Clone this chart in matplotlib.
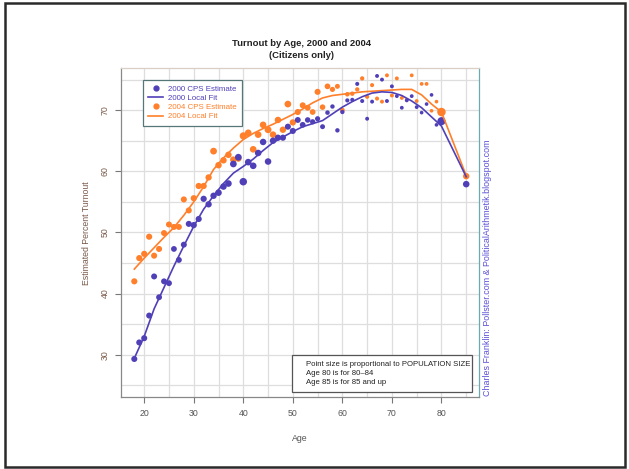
import matplotlib
matplotlib.use("Agg")
import matplotlib.pyplot as plt
from matplotlib.lines import Line2D
from matplotlib.patches import Rectangle
import numpy as np

plt.rcParams['font.family'] = ['Liberation Sans', 'DejaVu Sans']

# ---- data ----
ages = list(range(18, 80)) + [80, 85]

turnout_2000 = [29.3, 32.0, 32.7, 36.4, 42.8, 39.4, 42.0, 41.7, 47.3, 45.5,
                48.0, 51.4, 51.2, 52.2, 55.5, 54.6, 56.0, 56.5, 57.5, 58.0,
                61.2, 62.3, 58.3, 61.5, 60.9, 63.0, 64.8, 61.6, 65.0, 65.5,
                65.5, 67.3, 66.6, 68.4, 67.6, 68.4, 68.1, 68.6, 67.3, 69.6,
                70.6, 66.7, 69.7, 71.6, 71.7, 74.3, 71.5, 68.6, 71.4, 75.6,
                75.0, 71.5, 73.9, 72.3, 70.4, 71.6, 72.3, 70.5, 69.6, 71.0,
                72.5, 67.6, 68.2, 57.9]

turnout_2004 = [42.0, 45.8, 46.5, 49.3, 46.2, 47.3, 49.9, 51.3, 50.9, 50.9,
                55.4, 53.6, 55.6, 57.6, 57.6, 59.0, 63.3, 61.0, 61.8, 62.7,
                61.9, 62.1, 65.8, 66.3, 63.6, 66.0, 67.6, 66.8, 66.0, 68.4,
                66.8, 71.0, 68.0, 69.7, 70.8, 70.4, 69.7, 73.0, 70.5, 73.9,
                73.4, 73.9, 70.0, 72.6, 72.7, 73.4, 75.2, 72.2, 74.1, 71.9,
                71.4, 75.7, 72.4, 75.2, 72.0, 71.7, 75.7, 71.5, 74.3, 74.3,
                69.9, 71.4, 69.7, 59.2]

# relative population (point size)
pop_2000 = [3.6, 3.6, 3.6, 3.5, 3.5, 3.4, 3.4, 3.4, 3.3, 3.4,
            3.5, 3.6, 3.8, 3.7, 3.8, 3.9, 4.0, 4.2, 4.1, 4.3,
            4.4, 4.5, 5.5, 4.3, 4.3, 4.2, 4.1, 4.2, 4.0, 3.8,
            3.7, 3.6, 3.6, 3.4, 3.3, 3.0, 2.7, 2.6, 2.4, 2.0,
            1.9, 1.9, 1.8, 1.7, 1.6, 1.6, 1.6, 1.5, 1.5, 1.5,
            1.5, 1.5, 1.5, 1.4, 1.4, 1.4, 1.4, 1.4, 1.3, 1.3,
            1.3, 1.3, 6.5, 4.2]

pop_2004 = [3.7, 3.7, 3.7, 3.7, 3.6, 3.6, 3.5, 3.5, 3.5, 3.5,
            3.6, 3.6, 3.7, 3.8, 3.8, 3.9, 4.5, 4.1, 4.1, 4.1,
            4.2, 4.2, 5.0, 4.3, 4.3, 4.3, 4.3, 4.6, 4.2, 4.1,
            4.0, 4.4, 3.9, 3.6, 3.5, 3.4, 3.2, 3.6, 3.0, 3.2,
            2.6, 2.4, 2.2, 2.0, 1.9, 1.8, 1.8, 1.7, 1.6, 1.6,
            1.5, 1.5, 1.5, 1.5, 1.4, 1.4, 1.4, 1.4, 1.4, 1.4,
            1.3, 1.3, 7.0, 4.0]

fit_ages = [18, 20, 22, 24, 26, 28, 30, 32, 34, 36, 38, 40, 42, 44, 46, 48,
            50, 52, 54, 56, 58, 60, 62, 64, 66, 68, 70, 72, 74, 76, 78, 80, 85]
fit_2000 = [29.4, 33.0, 37.5, 41.0, 44.5, 47.8, 51.0, 53.8, 56.0, 58.0, 59.7,
            60.8, 62.0, 63.4, 64.7, 65.6, 66.5, 67.3, 67.8, 68.3, 69.4, 70.5,
            71.4, 72.2, 72.8, 73.0, 72.9, 72.4, 71.5, 70.4, 68.9, 67.4, 59.1]
fit_2004 = [44.0, 45.8, 47.5, 49.2, 50.8, 52.8, 55.0, 57.5, 60.3, 62.2, 63.8,
            65.2, 66.2, 67.0, 67.7, 68.5, 69.3, 70.2, 71.2, 72.0, 72.4, 72.6,
            72.8, 73.0, 73.1, 73.2, 73.3, 73.4, 73.4, 72.5, 71.0, 69.7, 59.3]

x_ticks = [20, 30, 40, 50, 60, 70, 80]
y_ticks = [30, 40, 50, 60, 70]

PURPLE = '#5040b8'
ORANGE = '#ff7f2a'

fig = plt.figure(figsize=(6.29, 4.69), dpi=100)
ax = fig.add_axes([0.1924, 0.1525, 0.5699, 0.7025])

ax.set_xlim(15.32, 87.68)
ax.set_ylim(23.0, 76.9)

# grid every 5
for gx in range(15, 90, 5):
    ax.axvline(gx, color='#dedede', lw=0.9, zorder=0)
for gy in range(25, 80, 5):
    ax.axhline(gy, color='#dedede', lw=0.9, zorder=0)

k = 5.3
ax.scatter(ages, turnout_2004, s=[p * k for p in pop_2004], color=ORANGE,
           linewidths=0, zorder=3)
ax.scatter(ages, turnout_2000, s=[p * k for p in pop_2000], color=PURPLE,
           linewidths=0, zorder=3)
ax.plot(fit_ages, fit_2004, color=ORANGE, lw=1.2, zorder=4)
ax.plot(fit_ages, fit_2000, color=PURPLE, lw=1.2, zorder=4)

ax.set_xticks(x_ticks)
ax.set_yticks(y_ticks)
ax.set_xticklabels([str(v) for v in x_ticks], fontsize=6.3, color='#555555')
ax.set_yticklabels([str(v) for v in y_ticks], fontsize=6.3, color='#7a5a4a',
                   rotation=90, va='center')
ax.tick_params(axis='both', direction='out', length=4, width=0.8,
               color='#777777', pad=4)

ax.spines['left'].set_color('#888888')
ax.spines['bottom'].set_color('#888888')
ax.spines['top'].set_color('#d9cfc6')
ax.spines['right'].set_color('#6aaab0')
for s in ax.spines.values():
    s.set_linewidth(0.9)

ax.set_xlabel('Age', fontsize=6.3, color='#555555', labelpad=12)
ax.set_ylabel('Estimated Percent Turnout', fontsize=6.3, color='#7a5a4a',
              labelpad=7)

fig.text(0.479, 1 - 43 / 469, 'Turnout by Age, 2000 and 2004', ha='center',
         va='center', fontsize=6.8, fontweight='bold', color='#222222')
fig.text(0.479, 1 - 55 / 469, '(Citizens only)', ha='center', va='center',
         fontsize=6.8, fontweight='bold', color='#222222')

handles = [
    Line2D([], [], marker='o', ls='none', color=PURPLE, markersize=3.5),
    Line2D([], [], color=PURPLE, lw=1.2),
    Line2D([], [], marker='o', ls='none', color=ORANGE, markersize=3.5),
    Line2D([], [], color=ORANGE, lw=1.2),
]
labels = ['2000 CPS Estimate', '2000 Local Fit', '2004 CPS Estimate',
          '2004 Local Fit']
leg = ax.legend(handles, labels, loc='upper left',
                bbox_to_anchor=(0.061, 0.964), fontsize=5.7, fancybox=False,
                framealpha=1, edgecolor='#557777', borderpad=0.7,
                handlelength=1.9, handletextpad=0.6, labelspacing=0.2,
                borderaxespad=0,
                labelcolor=[PURPLE, PURPLE, ORANGE, ORANGE])
leg.get_frame().set_linewidth(0.9)
leg.set_zorder(6)

ax.add_patch(Rectangle((0.477, 0.017), 0.502, 0.112, transform=ax.transAxes,
                       facecolor='white', edgecolor='#555555', lw=0.9,
                       zorder=6))
notes = ['Point size is proportional to POPULATION SIZE',
         'Age 80 is for 80\u201384',
         'Age 85 is for 85 and up']
for i, t in enumerate(notes):
    ax.text(0.516, 0.100 - i * 0.028, t, transform=ax.transAxes, fontsize=5.6,
            color='#222222', va='center', ha='left', zorder=7)

fig.text(487 / 629, 1 - 396 / 469,
         'Charles Franklin: Pollster.com & PoliticalArithmetik.blogspot.com',
         rotation=90, ha='center', va='bottom', fontsize=6.4, color='#5a50d8')

fig.add_artist(Rectangle((5 / 629, 2 / 469), 620 / 629, 464 / 469,
                         transform=fig.transFigure, fill=False,
                         edgecolor='#2a2a2a', lw=1.8))

fig.savefig('out.png', dpi=100)
